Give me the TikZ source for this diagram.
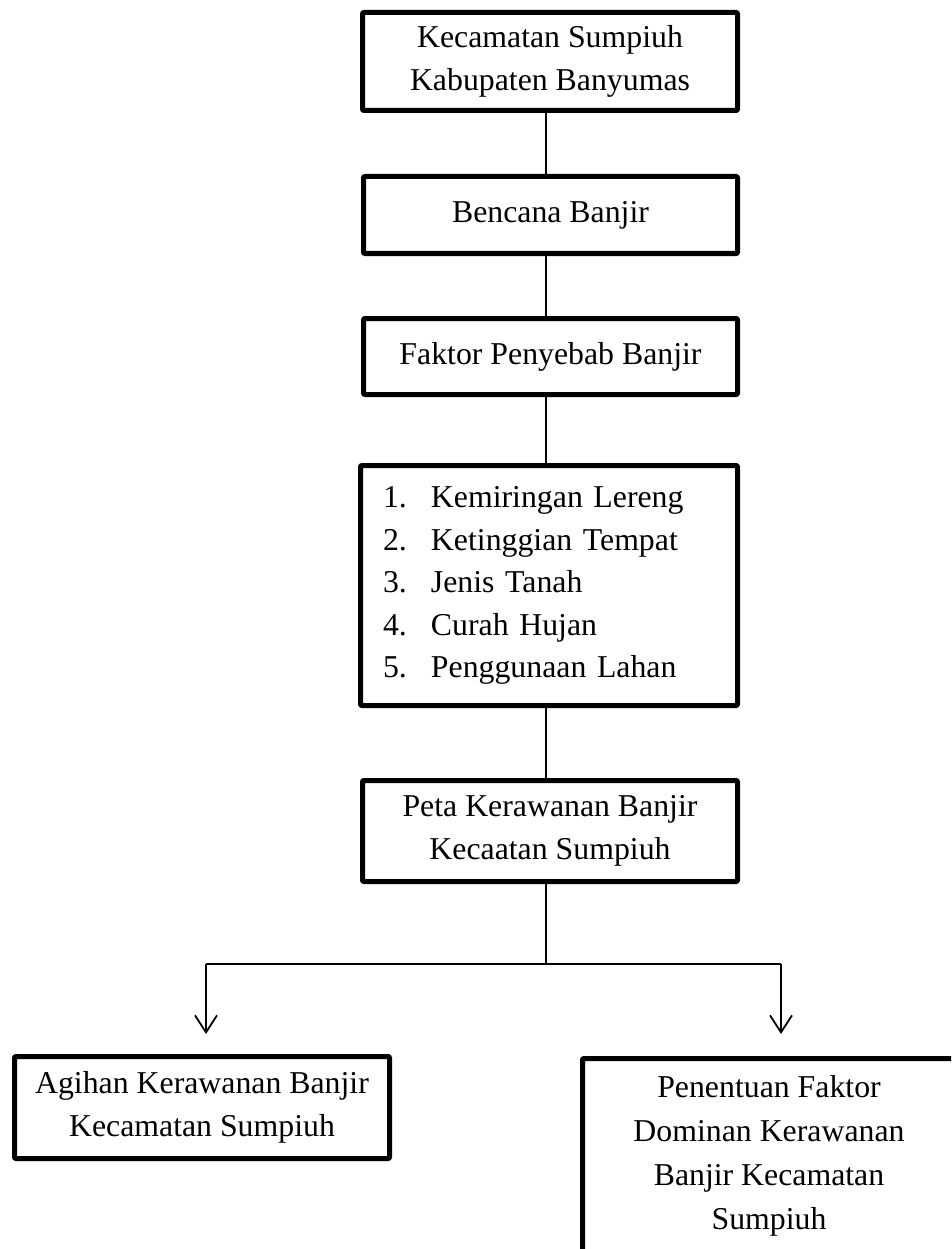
\documentclass[tikz,border=0pt]{standalone}
\usepackage{fontspec}
\setmainfont{Liberation Serif}
\usetikzlibrary{arrows.meta}
\tikzset{
  box/.style={draw, line width=5pt, line join=round, rounded corners=1pt,
    align=center, inner sep=0pt, font=\fontsize{31.8}{42.5}\selectfont},
  link/.style={line width=1.8pt},
  arr/.style={link, -{Straight Barb[length=17pt,width=22pt,line width=1.8pt]}}
}
\newcommand{\itemno}[1]{\makebox[48pt][l]{#1}}
\begin{document}
\begin{tikzpicture}[x=1pt,y=-1pt]
\clip (0,0) rectangle (951,1249);
\fill[white] (0,0) rectangle (951,1249);

\node[box, minimum width=375pt, minimum height=98pt] (b1) at (550,61.5)
  {Kecamatan Sumpiuh\\Kabupaten Banyumas};
\node[box, minimum width=374pt, minimum height=77pt] (b2) at (550.5,215)
  {Bencana Banjir};
\node[box, minimum width=374pt, minimum height=76pt] (b3) at (550.5,356.5)
  {Faktor Penyebab Banjir};
\node[box, text width=332pt, inner xsep=22.5pt, align=left, minimum height=240pt] (b4) at (549,585.5)
  {\itemno{1.}Kemiringan Lereng\\\itemno{2.}Ketinggian Tempat\\\itemno{3.}Jenis Tanah\\\itemno{4.}Curah Hujan\\\itemno{5.}Penggunaan Lahan};
\node[box, minimum width=375pt, minimum height=101pt] (b5) at (550,831)
  {Peta Kerawanan Banjir\\Kecaatan Sumpiuh};
\node[box, minimum width=375pt, minimum height=102pt] (b6) at (202,1107.5)
  {Agihan Kerawanan Banjir\\Kecamatan Sumpiuh};
\node[box, minimum width=373pt, minimum height=195pt, font=\fontsize{31.8}{44}\selectfont] (b7) at (769,1156)
  {Penentuan Faktor\\Dominan Kerawanan\\Banjir Kecamatan\\Sumpiuh};

\coordinate (spine) at (546,0);
\coordinate (j) at (546,964);
\coordinate (jl) at (206,964);
\coordinate (jr) at (781,964);
\coordinate (al) at (206,1034);
\coordinate (ar) at (781,1034);

\draw[link] (b1.south -| spine) -- (b2.north -| spine);
\draw[link] (b2.south -| spine) -- (b3.north -| spine);
\draw[link] (b3.south -| spine) -- (b4.north -| spine);
\draw[link] (b4.south -| spine) -- (b5.north -| spine);
\draw[link] (b5.south -| spine) -- (j);
\draw[link] (jl) -- (jr);
\draw[arr] (jl) -- (al);
\draw[arr] (jr) -- (ar);
\end{tikzpicture}
\end{document}
